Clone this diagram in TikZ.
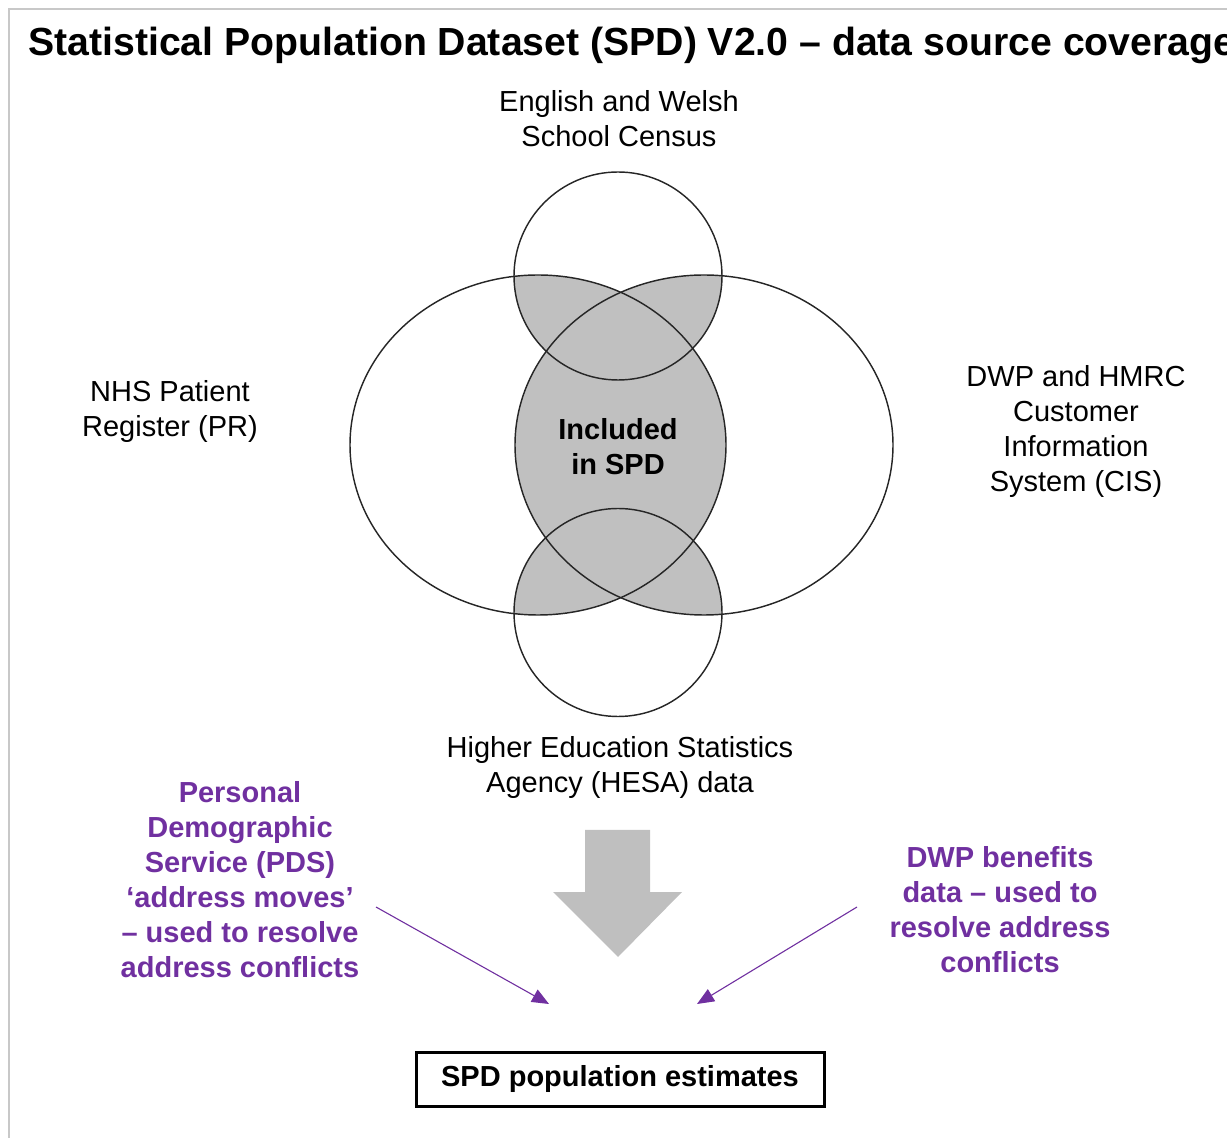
\documentclass[tikz,border=0pt]{standalone}
\usepackage{fontspec}
\setmainfont{Liberation Sans}
\usetikzlibrary{arrows.meta}
\definecolor{spdpurple}{HTML}{7030A0}
\definecolor{venngray}{HTML}{C0C0C0}
\definecolor{arrowgray}{HTML}{BFBFBF}
\definecolor{framegray}{HTML}{C8C8C8}
\definecolor{outline}{HTML}{262626}
\begin{document}
\begin{tikzpicture}[x=0.5pt,y=-0.5pt,
  lbl/.style={align=center, font=\fontsize{14.5}{17.5}\selectfont, inner sep=0pt},
  blbl/.style={align=center, font=\bfseries\fontsize{14.5}{17.5}\selectfont, inner sep=0pt},
  plbl/.style={blbl, text=spdpurple},
  venn/.style={draw=outline, line width=0.72pt},
  parrow/.style={draw=spdpurple, line width=0.55pt, -{Triangle[length=8.5pt,width=7pt]}}
]
\useasboundingbox (0,0) rectangle (1227,1138);
% frame
\draw[framegray, line width=0.75pt] (9,1138) -- (9,9) -- (1227,9);
% title
\node[anchor=west, font=\bfseries\fontsize{19.6}{23}\selectfont, inner sep=0pt] (title) at (28,45)
  {Statistical Population Dataset (SPD) V2.0 – data source coverage};
% shading
\begin{scope}
  \clip (538,445) ellipse [x radius=94pt, y radius=85pt];
  \fill[venngray] (618,276) circle [radius=52pt];
  \fill[venngray] (618,612.5) circle [radius=52pt];
  \fill[venngray] (704,445) ellipse [x radius=94.5pt, y radius=85pt];
\end{scope}
\begin{scope}
  \clip (704,445) ellipse [x radius=94.5pt, y radius=85pt];
  \fill[venngray] (618,276) circle [radius=52pt];
  \fill[venngray] (618,612.5) circle [radius=52pt];
\end{scope}
% outlines
\draw[venn] (538,445) ellipse [x radius=94pt, y radius=85pt];
\draw[venn] (704,445) ellipse [x radius=94.5pt, y radius=85pt];
\draw[venn] (618,276) circle [radius=52pt];
\draw[venn] (618,612.5) circle [radius=52pt];
% labels
\node[lbl] (ews) at (619,118.5) {English and Welsh\\School Census};
\node[lbl] (nhs) at (170,411.5) {NHS Patient\\Register (PR)};
\node[lbl] (cis) at (1076,431.5) {DWP and HMRC\\Customer\\Information\\System (CIS)};
\node[blbl] (inc) at (618,446.5) {Included\\in SPD};
\node[lbl] (hesa) at (620,767.5) {Higher Education Statistics\\Agency (HESA) data};
% block arrow
\fill[arrowgray] (585,830) -- (650,830) -- (650,892) -- (682,892) -- (618,957) -- (553,892) -- (585,892) -- cycle;
% purple texts
\node[plbl] (pds) at (240,880) {Personal\\Demographic\\Service (PDS)\\‘address moves’\\– used to resolve\\address conflicts};
\node[plbl] (dwpb) at (1000,910) {DWP benefits\\data – used to\\resolve address\\conflicts};
% purple arrows
\coordinate (pdsfrom) at (376,907);
\coordinate (pdsto) at (549,1004);
\coordinate (dwpfrom) at (857,907);
\coordinate (dwpto) at (697,1004);
\draw[parrow] (pdsfrom) -- (pdsto);
\draw[parrow] (dwpfrom) -- (dwpto);
% result box
\node[blbl, draw=black, line width=1.5pt, minimum width=204pt, minimum height=27pt] (est) at (620,1079) {\raisebox{-1pt}{SPD population estimates}};
\end{tikzpicture}
\end{document}
